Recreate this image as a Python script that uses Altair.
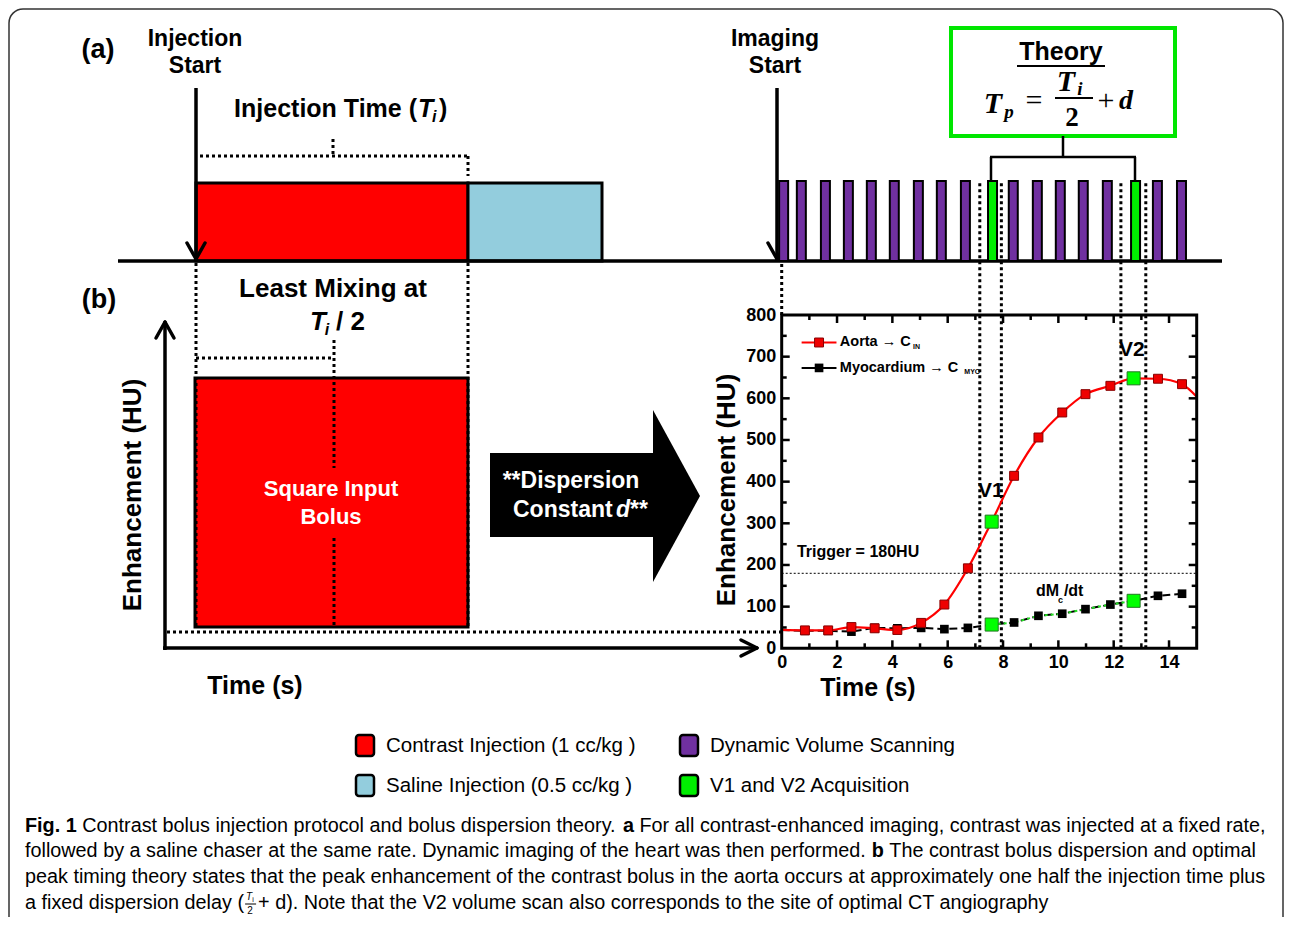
import altair as alt
import pandas as pd

# ---------------- values ----------------
scan_time = [0.0, 0.84, 1.68, 2.52, 3.36, 4.18, 5.04, 5.88, 6.73, 7.59, 8.40, 9.28,
             10.14, 10.98, 11.88, 12.72, 13.60, 14.47]
aorta_hu = [44, 43, 43, 51, 48, 44, 61, 105, 192, 304, 414, 506, 566, 610, 630, 648, 647, 634]
myo_hu = [44, 42, 42, 40, 49, 48, 49, 46, 49, 57, 62, 78, 83, 94, 105, 114, 126, 131]
aorta_tail = (15.0, 604)
v_index = [9, 15]
v_names = ["V1", "V2"]
v_label_pos = [(7.56, 378), (12.66, 716)]
window_time = [7.16, 7.94, 12.26, 13.16]
trigger_hu = 180
pulse_time = [0.07, 0.71, 1.58, 2.41, 3.24, 4.07, 4.94, 5.77, 6.64, 7.62, 8.37, 9.24,
              10.07, 10.90, 11.77, 12.79, 13.58, 14.45]
pulse_kind = ["scan"] * 9 + ["acq"] + ["scan"] * 5 + ["acq"] + ["scan"] * 2
x_major = [0, 2, 4, 6, 8, 10, 12, 14]
x_minor = [1, 3, 5, 7, 9, 11, 13]
y_major = [0, 100, 200, 300, 400, 500, 600, 700, 800]
y_minor = [50, 150, 250, 350, 450, 550, 650, 750]
legend_names = ["Contrast  Injection (1 cc/kg )", "Dynamic Volume Scanning",
                "Saline Injection (0.5 cc/kg )", "V1 and V2  Acquisition"]

# ---------------- scales ----------------
W, H = 1276, 909
SANS = "Liberation Sans"
SERIF = "Liberation Serif"
XL = alt.Scale(domain=[0, 1292], range=[-8, 1284], nice=False, zero=False)
YL = alt.Scale(domain=[0, 925], range=[-8, 917], nice=False, zero=False)
XP = alt.Scale(domain=[0, 15], range=[773.7, 1188.7], nice=False, zero=False)
YP = alt.Scale(domain=[0, 800], range=[640.3, 307], nice=False, zero=False)
FILL = alt.Scale(domain=["contrast", "saline", "scan", "acq"],
                 range=["#FF0000", "#93CDDD", "#7030A0", "#00EE00"])

AXX = alt.Axis(orient="bottom", offset=-268.7, values=x_major, domain=False, ticks=False,
               grid=False, labelFont=SANS, labelFontWeight="bold", labelFontSize=18,
               labelColor="black", labelPadding=5, title=None, labelFlush=False, zindex=1)
AXY = alt.Axis(orient="left", offset=-773.7, values=y_major, domain=False, ticks=False,
               grid=False, labelFont=SANS, labelFontWeight="bold", labelFontSize=18,
               labelColor="black", labelPadding=6, title=None, zindex=1)


def lx(f="x"):
    return alt.X(f + ":Q", scale=XL, axis=None)


def ly(f="y"):
    return alt.Y(f + ":Q", scale=YL, axis=None)


def segs(rows, **mk):
    df = pd.DataFrame(rows, columns=["x", "y", "x2", "y2"])
    return alt.Chart(df).mark_rule(**mk).encode(x=lx(), y=ly(), x2="x2:Q", y2="y2:Q")


def boxes(rows, **mk):
    df = pd.DataFrame(rows, columns=["x", "y", "x2", "y2"])
    return alt.Chart(df).mark_rect(**mk).encode(x=lx(), y=ly(), x2="x2:Q", y2="y2:Q")


def kboxes(rows, **mk):
    df = pd.DataFrame(rows, columns=["x", "y", "x2", "y2", "kind"])
    return alt.Chart(df).mark_rect(**mk).encode(
        x=lx(), y=ly(), x2="x2:Q", y2="y2:Q",
        color=alt.Color("kind:N", scale=FILL, legend=None))


def texts(rows, **mk):
    df = pd.DataFrame(rows, columns=["x", "y", "s"])
    return alt.Chart(df).mark_text(**mk).encode(x=lx(), y=ly(), text="s:N")


def btext(rows, size, **mk):
    opts = dict(font=SANS, fontWeight="bold", fontSize=size, color="black")
    opts.update(mk)
    return texts(rows, **opts)


# ---------------- caption layout (Arial metrics) ----------------
AR = {" ": 278, "(": 333, ")": 333, ",": 278, "-": 333, ".": 278, "+": 584, "/": 278,
      "1": 556, "2": 556, "0": 556, "5": 556,
      "A": 667, "C": 722, "D": 722, "F": 611, "N": 722, "T": 611, "V": 667,
      "a": 556, "b": 556, "c": 500, "d": 556, "e": 556, "f": 278, "g": 556, "h": 556,
      "i": 222, "j": 222, "k": 500, "l": 222, "m": 833, "n": 556, "o": 556, "p": 556,
      "q": 556, "r": 333, "s": 500, "t": 278, "u": 556, "v": 500, "w": 722, "x": 500,
      "y": 500, "z": 500}
ARB = {"F": 611, "i": 278, "g": 611, ".": 278, " ": 278, "1": 556, "a": 556, "b": 611}


def em(s, bold=False):
    tab = ARB if bold else AR
    return sum(tab.get(c, 556) for c in s) / 1000.0


cap_lines = [
    [("Fig. 1", True), (" Contrast bolus injection protocol and bolus dispersion theory. ", False),
     ("a", True), (" For all contrast-enhanced imaging, contrast was injected at a fixed rate,", False)],
    [("followed by a saline chaser at the same rate. Dynamic imaging of the heart was then performed. ", False),
     ("b", True), (" The contrast bolus dispersion and optimal", False)],
    [("peak timing theory states that the peak enhancement of the contrast bolus in the aorta "
      "occurs at approximately one half the injection time plus", False)],
    [("a fixed dispersion delay (", False), ("FRAC", False),
     ("+ d). Note that the V2 volume scan also corresponds to the site of optimal CT angiography", False)],
]
cap_y = [826, 851, 877, 903]
CAP = (1266 - 25) / em(cap_lines[2][0][0])
cap_reg, cap_bold = [], []
frac_x = 0
for line, yy in zip(cap_lines, cap_y):
    cur = 25.0
    for s, b in line:
        if s == "FRAC":
            frac_x = cur
            cur += 14
            continue
        lead = len(s) - len(s.lstrip(" "))
        x0 = cur + em(" " * lead, b) * CAP
        (cap_bold if b else cap_reg).append((x0, yy, s.strip()))
        cur += em(s, b) * CAP

# ---------------- layout layers ----------------
L = []
L.append(boxes([(9, 9, 1283, 960)], fillOpacity=0, stroke="#333333", strokeWidth=1.5,
               cornerRadius=14))
L.append(kboxes([(196, 183, 468, 261, "contrast"), (468, 183, 602, 261, "saline"),
                 (195, 378, 468, 627, "contrast")], stroke="black", strokeWidth=3))
L.append(boxes([(951, 28, 1175, 136)], fill="white", stroke="#00E600", strokeWidth=4))
L.append(boxes([(490, 453, 653, 537)], fill="black"))
L.append(alt.Chart(pd.DataFrame({"x": [653, 700], "y": [410, 496], "y2": [582, 496]}))
         .mark_area(color="black").encode(x=lx(), y=ly(), y2="y2:Q"))
L.append(segs([(118, 261, 1222, 261), (196, 88, 196, 258), (777, 88, 777, 258),
               (165, 323, 165, 650), (163, 648, 755, 648)], color="black", strokeWidth=3.5))
L.append(segs([(187, 243, 196, 259), (205, 243, 196, 259), (768, 243, 777, 259),
               (786, 243, 777, 259), (156, 338, 165, 322), (174, 338, 165, 322),
               (741, 640, 757, 648), (741, 656, 757, 648)],
              color="black", strokeWidth=3.5, strokeCap="round"))
L.append(segs([(1063, 136, 1063, 157), (990, 157, 1136, 157), (991, 157, 991, 181),
               (1135, 157, 1135, 181)], color="black", strokeWidth=2.5))
L.append(segs([(1017, 66, 1105, 66), (1055, 98, 1093, 98)], color="black", strokeWidth=2))
L.append(segs([(200, 156, 468, 156), (333, 139, 333, 156), (468, 156, 468, 176),
               (196, 263, 196, 627), (468, 263, 468, 627), (196, 358, 334, 358),
               (334, 340, 334, 468), (334, 538, 334, 627), (167, 632, 781, 632)],
              color="black", strokeWidth=3, strokeDash=[3, 3]))
# legend swatches
L.append(kboxes([(356, 735, 374, 756, "contrast"), (680, 735, 698, 756, "scan"),
                 (356, 775, 374, 796, "saline"), (680, 775, 698, 796, "acq")],
                stroke="black", strokeWidth=2.5, cornerRadius=3))

# texts
L.append(btext([(98, 50, "(a)"), (99, 300, "(b)")], 27))
L.append(btext([(195, 39, "Injection"), (195, 66, "Start"), (775, 39, "Imaging"),
                (775, 66, "Start")], 23))
L.append(btext([(417, 109, "Injection Time (")], 25, align="right"))
L.append(btext([(418, 109, "T")], 25, align="left", fontStyle="italic"))
L.append(btext([(432, 117, "i")], 16, align="left", fontStyle="italic"))
L.append(btext([(439, 109, ")")], 25, align="left"))
L.append(btext([(1061, 52, "Theory")], 25))
L.append(btext([(333, 289, "Least Mixing at")], 26))
L.append(btext([(318, 322, "T")], 26, fontStyle="italic"))
L.append(btext([(327, 330, "i")], 16, fontStyle="italic"))
L.append(btext([(336, 322, "/ 2")], 26, align="left"))
L.append(btext([(331, 489, "Square Input"), (331, 517, "Bolus")], 22, color="white"))
L.append(btext([(571, 481, "**Dispersion")], 23, color="white"))
L.append(btext([(513, 510, "Constant")], 23, color="white", align="left"))
L.append(btext([(616, 510, "d")], 23, color="white", align="left", fontStyle="italic"))
L.append(btext([(630, 510, "**")], 23, color="white", align="left"))
L.append(btext([(133, 495, "Enhancement (HU)"), (727, 490, "Enhancement (HU)")], 26, angle=270))
L.append(btext([(255, 686, "Time (s)"), (868, 688, "Time (s)")], 25))
# formula
L.append(btext([(993, 104, "T"), (1066, 82, "T")], 30, font=SERIF, fontStyle="italic"))
L.append(btext([(1009, 112, "p"), (1080, 89, "i")], 19, font=SERIF, fontStyle="italic"))
L.append(btext([(1072, 118, "2")], 27, font=SERIF))
L.append(texts([(1034, 101, "="), (1106, 101, "+")], font=SERIF, fontSize=30, color="black"))
L.append(btext([(1126, 101, "d")], 28, font=SERIF, fontStyle="italic"))
# legend labels
L.append(texts([(386, 746, legend_names[0]), (710, 746, legend_names[1]),
                (386, 786, legend_names[2]), (710, 786, legend_names[3])],
               font=SANS, fontSize=20.5, color="black", align="left"))
# caption
L.append(texts(cap_reg, font=SANS, fontSize=CAP, color="black", align="left"))
L.append(texts(cap_bold, font=SANS, fontSize=CAP, color="black", align="left",
               fontWeight="bold"))
L.append(texts([(frac_x + 5, 897, "T")], font=SANS, fontSize=10, fontStyle="italic",
               color="black"))
L.append(texts([(frac_x + 9, 900, "i")], font=SANS, fontSize=7, color="black"))
L.append(texts([(frac_x + 6, 911, "2")], font=SANS, fontSize=10, color="black"))
L.append(segs([(frac_x + 1, 904, frac_x + 12, 904)], color="black", strokeWidth=1))

layout = alt.layer(*L)

# ---------------- plot (panel b data) layers ----------------
def px(f):
    return alt.X(f, scale=XP, axis=AXX)


def py(f):
    return alt.Y(f, scale=YP, axis=AXY)


def pxd(v):
    return alt.XDatum(v, scale=XP, axis=AXX, type="quantitative")


def pyd(v):
    return alt.YDatum(v, scale=YP, axis=AXY, type="quantitative")


one = pd.DataFrame({"a": [0]})
curve = pd.DataFrame({"t": scan_time, "aorta": aorta_hu, "myo": myo_hu})
aorta_line = pd.DataFrame({"t": scan_time + [aorta_tail[0]], "hu": aorta_hu + [aorta_tail[1]]})
vpts = pd.DataFrame({"t": [scan_time[i] for i in v_index] * 2,
                     "hu": [aorta_hu[i] for i in v_index] + [myo_hu[i] for i in v_index]})
dm = curve.iloc[v_index[0]:v_index[1] + 1]

P = []
P.append(alt.Chart(pd.DataFrame({"t": pulse_time, "kind": pulse_kind}))
         .mark_rect(xOffset=-4.5, x2Offset=4.5, stroke="black", strokeWidth=2)
         .encode(x=px("t:Q"), x2="t:Q", y=alt.value(173), y2=alt.value(253),
                 color=alt.Color("kind:N", scale=FILL, legend=None)))
P.append(alt.Chart(pd.DataFrame({"t": window_time}))
         .mark_rule(color="black", strokeWidth=3, strokeDash=[3, 3])
         .encode(x=px("t:Q"), y=pyd(0), y2=alt.value(173)))
P.append(alt.Chart(one).mark_rule(color="black", strokeWidth=3, strokeDash=[3, 3])
         .encode(x=pxd(0), y=pyd(800), y2=alt.value(253)))
P.append(alt.Chart(one).mark_rule(color="#333333", strokeWidth=1.2, strokeDash=[2, 2])
         .encode(x=pxd(0), x2=alt.datum(15), y=pyd(trigger_hu)))
P.append(alt.Chart(curve).mark_line(color="black", strokeWidth=2, strokeDash=[8, 4])
         .encode(x=px("t:Q"), y=py("myo:Q")))
P.append(alt.Chart(dm).mark_line(color="#22DD22", strokeWidth=2, strokeDash=[3, 3])
         .encode(x=px("t:Q"), y=py("myo:Q")))
P.append(alt.Chart(curve.iloc[1:]).mark_point(shape="square", filled=True, size=75,
                                               color="black", opacity=1)
         .encode(x=px("t:Q"), y=py("myo:Q")))
P.append(alt.Chart(aorta_line).mark_line(color="#FF0000", strokeWidth=2.2, interpolate="monotone")
         .encode(x=px("t:Q"), y=py("hu:Q")))
P.append(alt.Chart(curve.iloc[1:]).mark_point(shape="square", filled=True, size=80,
                                               fill="#EE0000", stroke="#880000",
                                               strokeWidth=1, opacity=1)
         .encode(x=px("t:Q"), y=py("aorta:Q")))
P.append(alt.Chart(vpts).mark_point(shape="square", filled=True, size=170, fill="#00FF00",
                                     stroke="#227722", strokeWidth=1, opacity=1)
         .encode(x=px("t:Q"), y=py("hu:Q")))
# frame and inward ticks
P.append(alt.Chart(one).mark_rect(fillOpacity=0, stroke="black", strokeWidth=3)
         .encode(x=pxd(0), x2=alt.datum(15), y=pyd(0), y2=alt.datum(800)))
for vals, ln in [(x_major[1:], 8), (x_minor, 5)]:
    d = pd.DataFrame({"v": vals})
    P.append(alt.Chart(d).mark_rule(color="black", strokeWidth=2.5, y2Offset=-ln)
             .encode(x=px("v:Q"), y=pyd(0), y2=alt.datum(0)))
    P.append(alt.Chart(d).mark_rule(color="black", strokeWidth=2.5, y2Offset=ln)
             .encode(x=px("v:Q"), y=pyd(800), y2=alt.datum(800)))
for vals, ln in [(y_major[1:-1], 8), (y_minor, 5)]:
    d = pd.DataFrame({"v": vals})
    P.append(alt.Chart(d).mark_rule(color="black", strokeWidth=2.5, x2Offset=ln)
             .encode(y=py("v:Q"), x=pxd(0), x2=alt.datum(0)))
    P.append(alt.Chart(d).mark_rule(color="black", strokeWidth=2.5, x2Offset=-ln)
             .encode(y=py("v:Q"), x=pxd(15), x2=alt.datum(15)))


def ptext(rows, size, **mk):
    df = pd.DataFrame(rows, columns=["t", "hu", "s"])
    opts = dict(font=SANS, fontWeight="bold", fontSize=size, color="black")
    opts.update(mk)
    return alt.Chart(df).mark_text(**opts).encode(x=px("t:Q"), y=py("hu:Q"), text="s:N")


P.append(ptext([(0.55, 232, "Trigger = 180HU")], 16, align="left"))
P.append(ptext([(p[0], p[1], n) for p, n in zip(v_label_pos, v_names)], 21))
P.append(ptext([(9.19, 138, "dM"), (10.2, 138, "/dt")], 16, align="left"))
P.append(ptext([(10.08, 116, "c")], 9))
# in-plot legend
P.append(alt.Chart(pd.DataFrame({"t": [0.72], "t2": [1.98], "hu": [734]}))
         .mark_rule(color="#FF0000", strokeWidth=2)
         .encode(x=px("t:Q"), x2="t2:Q", y=py("hu:Q")))
P.append(alt.Chart(pd.DataFrame({"t": [0.72], "t2": [1.98], "hu": [673]}))
         .mark_rule(color="black", strokeWidth=2)
         .encode(x=px("t:Q"), x2="t2:Q", y=py("hu:Q")))
P.append(alt.Chart(pd.DataFrame({"t": [1.35], "hu": [734]}))
         .mark_point(shape="square", filled=True, size=80, fill="#EE0000", stroke="#880000",
                     strokeWidth=1, opacity=1)
         .encode(x=px("t:Q"), y=py("hu:Q")))
P.append(alt.Chart(pd.DataFrame({"t": [1.35], "hu": [673]}))
         .mark_point(shape="square", filled=True, size=75, color="black", opacity=1)
         .encode(x=px("t:Q"), y=py("hu:Q")))
P.append(ptext([(2.1, 734, "Aorta \u2192 C"), (2.1, 673, "Myocardium \u2192 C")], 14.5,
               align="left"))
P.append(ptext([(4.75, 724, "IN"), (6.6, 663, "MYO")], 7, align="left"))

plot = alt.layer(*P)

chart = (alt.layer(layout, plot)
         .resolve_scale(x="independent", y="independent")
         .properties(width=W, height=H, padding=0,
                     autosize=alt.AutoSizeParams(type="none"), background="white")
         .configure_view(stroke=None))

chart.save("out.html", embed_options={"renderer": "svg", "actions": False})
